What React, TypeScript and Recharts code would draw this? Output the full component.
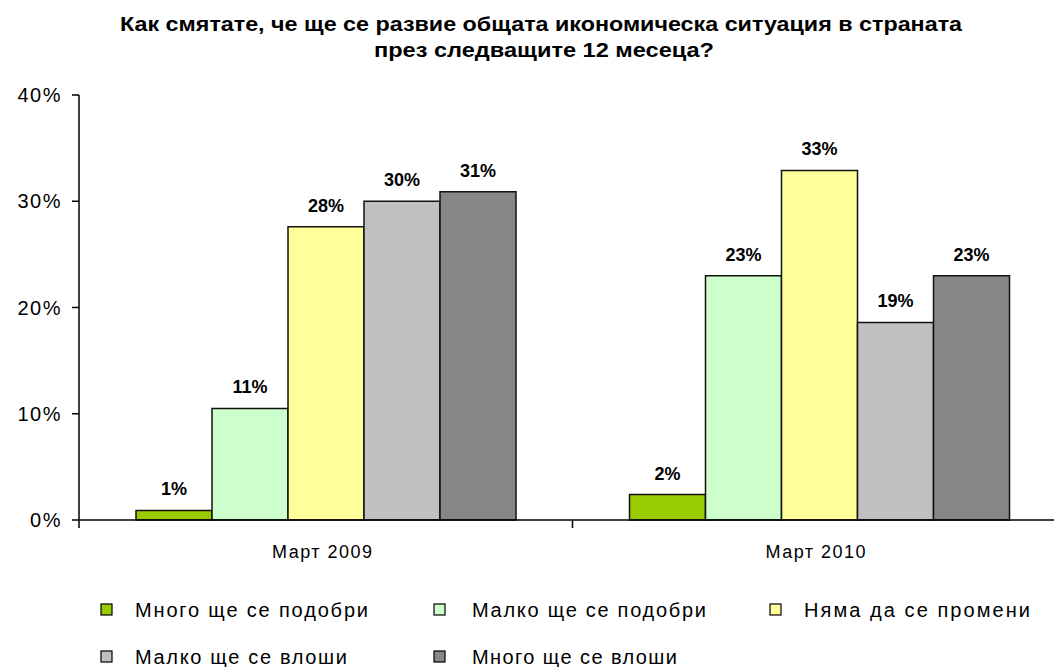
import React from "react";
import { BarChart, Bar, XAxis, YAxis, Legend, LabelList } from "recharts";

const categories = ["Март 2009", "Март 2010"];
const seriesNames = [
  "Много ще се подобри",
  "Малко ще се подобри",
  "Няма да се промени",
  "Малко ще се влоши",
  "Много ще се влоши",
];
const muchBetter = [0.9, 2.4];
const littleBetter = [10.5, 23.0];
const noChange = [27.6, 32.9];
const littleWorse = [30.0, 18.6];
const muchWorse = [30.9, 23.0];
const yTicks = [0, 10, 20, 30, 40];
const titleLines = [
  "Как смятате, че ще се развие общата икономическа ситуация в страната",
  "през следващите 12 месеца?",
];

const colors = ["#99CC00", "#CCFFCC", "#FFFF99", "#C0C0C0", "#878787"];
const keys = ["muchBetter", "littleBetter", "noChange", "littleWorse", "muchWorse"];

const data = categories.map((name, i) => ({
  name,
  muchBetter: muchBetter[i],
  littleBetter: littleBetter[i],
  noChange: noChange[i],
  littleWorse: littleWorse[i],
  muchWorse: muchWorse[i],
}));

// layout
const CHART_W = 1070;
const CHART_H = 667;
const PLOT_LEFT = 79;
const PLOT_RIGHT = 1066;
const PLOT_BOTTOM = 520;
const HALF_BAND = (PLOT_RIGHT - PLOT_LEFT) / categories.length / 2;
const FONT = "'Liberation Sans', Arial, sans-serif";

const legendCols = [
  { marker: 101, text: 135 },
  { marker: 434, text: 472 },
  { marker: 770, text: 804 },
];
const legendRows = [43, 90];
const legendTextW = [233, 234, 226, 212, 205];

const XTick = (props: any) => {
  const { x, payload, index } = props;
  const y0 = PLOT_BOTTOM;
  return (
    <g>
      <line x1={x - HALF_BAND} x2={x - HALF_BAND} y1={y0} y2={y0 + 8} stroke="#000" strokeWidth={1.5} />
      {index === categories.length - 1 && (
        <line x1={x + HALF_BAND} x2={x + HALF_BAND} y1={y0} y2={y0 + 8} stroke="#000" strokeWidth={1.5} />
      )}
      <text
        x={x - 3}
        y={y0 + 38}
        textAnchor="middle"
        fontFamily={FONT}
        fontSize={18}
        fill="#000"
        style={{ letterSpacing: 1.5 }}
      >
        {payload.value}
      </text>
    </g>
  );
};

// legend drawn in the reference's fixed order (3 + 2 grid)
const renderLegend = () => (
  <div style={{ width: 1054, height: 100 }}>
    <svg width={1054} height={100} style={{ display: "block" }}>
      {seriesNames.map((name, i) => {
        const col = legendCols[i % 3];
        const cy = legendRows[Math.floor(i / 3)];
        return (
          <g key={name}>
            <rect x={col.marker} y={cy - 6} width={11} height={11} fill={colors[i]} stroke="#000" strokeWidth={1.2} />
            <text
              x={col.text}
              y={cy + 7}
              fontFamily={FONT}
              fontSize={20}
              fill="#000"
              textLength={legendTextW[i]}
              lengthAdjust="spacing"
            >
              {name}
            </text>
          </g>
        );
      })}
    </svg>
  </div>
);

export default function App() {
  return (
    <div
      style={{
        position: "absolute",
        left: 0,
        top: 0,
        width: 1054,
        height: 667,
        overflow: "hidden",
        background: "#fff",
      }}
    >
      <BarChart
        width={CHART_W}
        height={CHART_H}
        data={data}
        margin={{ top: 95, right: CHART_W - PLOT_RIGHT, left: 0, bottom: 0 }}
        barCategoryGap={57}
        barGap={0}
      >
        <XAxis
          dataKey="name"
          height={47}
          tickLine={false}
          axisLine={{ stroke: "#000", strokeWidth: 1.5 }}
          tick={<XTick />}
          interval={0}
        />
        <YAxis
          width={PLOT_LEFT}
          domain={[0, 40]}
          ticks={yTicks}
          tickFormatter={(v: number) => `${v}%`}
          tickSize={7}
          tickMargin={10}
          axisLine={{ stroke: "#000", strokeWidth: 1.5 }}
          tickLine={{ stroke: "#000", strokeWidth: 1.5 }}
          tick={{ fill: "#000", fontSize: 20, fontFamily: FONT, style: { letterSpacing: 1.5 } }}
        />
        <Legend
          verticalAlign="bottom"
          content={renderLegend}
          wrapperStyle={{ left: 0, bottom: 0, width: 1054, height: 100 }}
        />
        {keys.map((k, i) => (
          <Bar
            key={k}
            dataKey={k}
            name={seriesNames[i]}
            fill={colors[i]}
            stroke="#111"
            strokeWidth={1.5}
            isAnimationActive={false}
          >
            <LabelList
              dataKey={k}
              position="top"
              offset={15}
              formatter={(v: number) => `${Math.round(v)}%`}
              fill="#000"
              fontSize={18}
              fontWeight="bold"
              fontFamily={FONT}
            />
          </Bar>
        ))}
      </BarChart>
      <svg
        width={1054}
        height={70}
        style={{ position: "absolute", left: 0, top: 0, pointerEvents: "none" }}
      >
        <text
          x={541}
          y={31}
          textAnchor="middle"
          fontFamily={FONT}
          fontWeight="bold"
          fontSize={21}
          textLength={842}
          lengthAdjust="spacingAndGlyphs"
          fill="#000"
        >
          {titleLines[0]}
        </text>
        <text
          x={544}
          y={57}
          textAnchor="middle"
          fontFamily={FONT}
          fontWeight="bold"
          fontSize={21}
          textLength={340}
          lengthAdjust="spacingAndGlyphs"
          fill="#000"
        >
          {titleLines[1]}
        </text>
      </svg>
    </div>
  );
}
